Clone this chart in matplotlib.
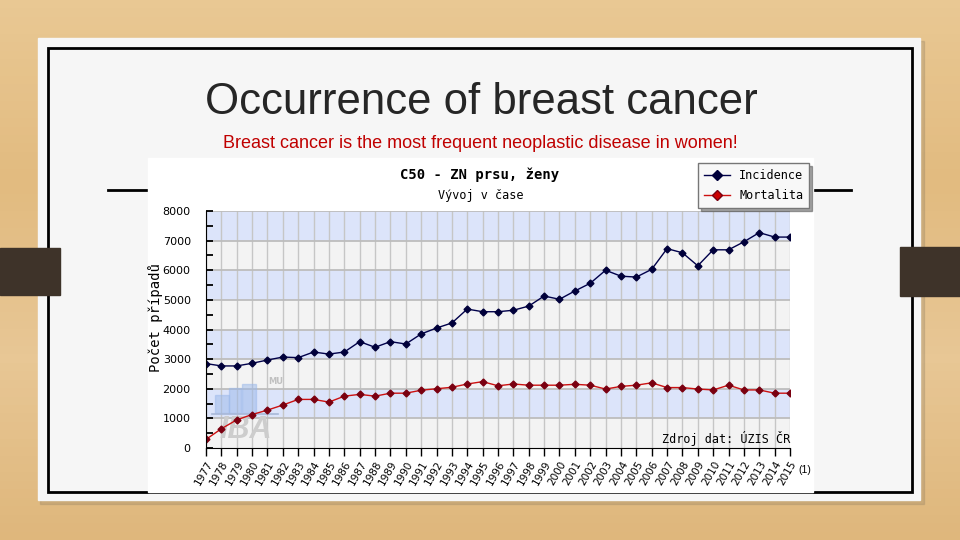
#!/usr/bin/env python3

import numpy as np
import matplotlib
matplotlib.use('Agg')
import matplotlib.pyplot as plt
from matplotlib.patches import Rectangle
from matplotlib.lines import Line2D

# data
years = list(range(1977, 2016))
incidence = [2850, 2770, 2770, 2860, 2970, 3070, 3050, 3240, 3170, 3240,
             3590, 3400, 3590, 3510, 3850, 4050, 4220, 4690, 4600, 4600,
             4650, 4790, 5130, 5020, 5300, 5560, 6000, 5800, 5770, 6030,
             6730, 6590, 6150, 6690, 6690, 6960, 7270, 7120, 7120]
mortality = [290, 650, 950, 1130, 1280, 1450, 1640, 1640, 1550, 1750,
             1810, 1750, 1850, 1850, 1950, 2000, 2050, 2160, 2240, 2100,
             2160, 2120, 2120, 2120, 2150, 2120, 1990, 2080, 2120, 2200,
             2040, 2040, 1990, 1960, 2120, 1960, 1960, 1850, 1850]
y_ticks = [0, 1000, 2000, 3000, 4000, 5000, 6000, 7000, 8000]

title = "Occurrence of breast cancer"
subtitle = "Breast cancer is the most frequent neoplastic disease in women!"
chart_title = "C50 - ZN prsu, ženy"
chart_sub = "Vývoj v čase"
source = "Zdroj dat: ÚZIS ČR"

W, H = 960, 540
fig = plt.figure(figsize=(9.6, 5.4), dpi=100)

# slide background in pixel coordinates
bg = fig.add_axes([0, 0, 1, 1])
bg.set_xlim(0, W)
bg.set_ylim(H, 0)
bg.axis('off')

grad = np.linspace(0, 1, 64).reshape(-1, 1)
wood = plt.matplotlib.colors.LinearSegmentedColormap.from_list(
    'wood', ['#e9c893', '#e2bb80', '#e8c795', '#dfb77c'])
bg.imshow(grad, cmap=wood, aspect='auto', extent=[0, W, H, 0], zorder=0)

# card with soft shadow
bg.add_patch(Rectangle((40, 41), 884, 463, color='#8a7a60', alpha=0.25, zorder=1))
bg.add_patch(Rectangle((38, 38), 882, 462, color='#f6f6f6', zorder=2))
bg.add_patch(Rectangle((48, 48), 864, 444, fill=False, ec='black', lw=2, zorder=3))

# side tabs
bg.add_patch(Rectangle((0, 248), 60, 47, color='#3e3329', zorder=4))
bg.add_patch(Rectangle((900, 247), 60, 49, color='#3e3329', zorder=4))

# divider line behind the chart image
bg.plot([108, 851], [190, 190], color='black', lw=2, zorder=3)
bg.add_patch(Rectangle((148, 158), 665, 334, color='white', zorder=3.5))

bg.text(481, 103, title, fontsize=31.5, family='Liberation Sans', color='#262626',
        ha='center', va='center', zorder=5)
bg.text(480, 144, subtitle, fontsize=13, family='Liberation Sans', color='#c00000',
        ha='center', va='center', zorder=5)
bg.text(480, 175, chart_title, fontsize=10, family='DejaVu Sans Mono', weight='bold',
        ha='center', va='center', zorder=5)
bg.text(481, 196, chart_sub, fontsize=8.5, family='DejaVu Sans Mono',
        ha='center', va='center', zorder=5)
bg.text(156, 318, "Počet případů", fontsize=10, family='DejaVu Sans Mono',
        rotation=90, ha='center', va='center', zorder=5)
bg.text(798, 470, "(1)", fontsize=7.5, family='Liberation Sans',
        ha='left', va='center', zorder=5)

# chart axes
ax = fig.add_axes([206 / W, 1 - 448 / H, 584 / W, 237 / H])
ax.set_xlim(years[0], years[-1])
ax.set_ylim(0, 8000)
ax.patch.set_alpha(0)

for i in range(len(y_ticks) - 1):
    col = '#f3f3f3' if i % 2 == 0 else '#dce4fa'
    ax.axhspan(y_ticks[i], y_ticks[i + 1], color=col, zorder=0, lw=0)

for yr in years:
    ax.axvline(yr, color='#c6c6c6', lw=1, zorder=1)
for yv in y_ticks[1:]:
    ax.axhline(yv, color='#bdbdbd', lw=1.3, zorder=1)

# IBA watermark
tr = bg.transData
for x0, y0, w, h in [(215, 395, 14, 18), (229, 388, 12, 25), (242, 384, 14, 29)]:
    ax.add_patch(Rectangle((x0, y0), w, h, color='#9ab8ea', alpha=0.5,
                           transform=tr, zorder=1.5))
ax.plot([212, 278], [414, 414], color='#a8b8d8', lw=1.2, transform=tr, zorder=1.5)
ax.text(268, 381, "MU", fontsize=6, color='#c0c0c0', weight='bold', transform=tr,
        ha='left', va='center', zorder=1.5)
ax.text(246, 430, "IBA", fontsize=22, color='#cdcdcd', weight='bold', style='italic',
        family='Liberation Sans', transform=tr, ha='center', va='center', zorder=1.5)

ax.plot(years, incidence, color='#00004a', lw=1, marker='D', ms=3.5,
        mfc='#00003a', mec='#00003a', zorder=3, label='Incidence')
ax.plot(years, mortality, color='#cc1010', lw=1, marker='D', ms=3.5,
        mfc='#7a0010', mec='#7a0010', zorder=3, label='Mortalita')

for s in ['top', 'right']:
    ax.spines[s].set_visible(False)
ax.spines['left'].set_color('black')
ax.spines['bottom'].set_color('black')
ax.spines['left'].set_zorder(4)
ax.spines['bottom'].set_zorder(4)

ax.set_yticks(y_ticks)
ax.set_yticks([v + 500 for v in y_ticks[:-1]], minor=True)
ax.set_yticklabels([str(v) for v in y_ticks], fontsize=8, family='DejaVu Sans')
ax.tick_params(axis='y', which='both', direction='in', length=5, width=1.3, pad=11)
ax.set_xticks(years)
ax.set_xticklabels([str(y) for y in years], rotation=60, ha='right',
                   rotation_mode='anchor', fontsize=7.5, family='DejaVu Sans')
ax.tick_params(axis='x', direction='out', length=6, width=1, pad=2)

ax.text(1.0, 0.04, source, transform=ax.transAxes, fontsize=8.5,
        family='DejaVu Sans Mono', ha='right', va='center', zorder=5)

handles = [Line2D([], [], color='#00004a', lw=1, marker='D', ms=5, mfc='#00003a', mec='#00003a'),
           Line2D([], [], color='#cc1010', lw=1, marker='D', ms=5, mfc='#cc0000', mec='#7a0010')]
leg = fig.legend(handles, ['Incidence', 'Mortalita'], loc='upper right',
                 bbox_to_anchor=(815 / W, 1 - 157 / H), fancybox=False, shadow=True,
                 framealpha=1, edgecolor='#777777', facecolor='#f8f8f8',
                 prop={'family': 'DejaVu Sans Mono', 'size': 8.5},
                 handlelength=2.2, borderpad=0.5, labelspacing=0.6, handletextpad=0.8)
leg.set_zorder(10)
leg.get_frame().set_linewidth(1)

fig.savefig('out.png', dpi=100)
